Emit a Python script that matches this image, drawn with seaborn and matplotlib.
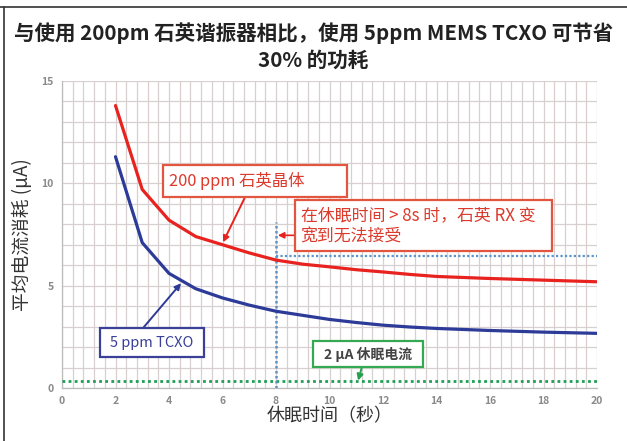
import numpy as np
import pandas as pd
import matplotlib
matplotlib.use("Agg")
import matplotlib.pyplot as plt
import seaborn as sns
from matplotlib.lines import Line2D

# ---- data ----
sleep_time = [2, 3, 4, 5, 6, 7, 8, 9, 10, 11, 12, 13, 14, 15, 16, 17, 18, 19, 20]
quartz_200ppm = [13.8, 9.7, 8.2, 7.4, 7.0, 6.6, 6.25, 6.05, 5.92, 5.78, 5.67, 5.55,
                 5.45, 5.4, 5.35, 5.31, 5.27, 5.23, 5.19]
tcxo_5ppm = [11.3, 7.1, 5.6, 4.85, 4.4, 4.05, 3.75, 3.55, 3.35, 3.2, 3.07, 2.98,
             2.91, 2.86, 2.81, 2.77, 2.73, 2.7, 2.67]
series_names = ["200 ppm 石英晶体", "5 ppm TCXO"]
sleep_current = 0.35
threshold_time = 8
threshold_top = 8.1
threshold_level = 6.44
x_ticks = [0, 2, 4, 6, 8, 10, 12, 14, 16, 18, 20]
y_ticks = [0, 5, 10, 15]

title = "与使用 200pm 石英谐振器相比，使用 5ppm MEMS TCXO 可节省\n30% 的功耗"
xlabel = "休眠时间（秒）"
ylabel = "平均电流消耗 (µA)"
note_red = "在休眠时间 > 8s 时，石英 RX 变\n宽到无法接受"
note_green = "2 µA 休眠电流"

df = pd.DataFrame({
    "x": sleep_time * 2,
    "y": quartz_200ppm + tcxo_5ppm,
    "s": [series_names[0]] * len(sleep_time) + [series_names[1]] * len(sleep_time),
})

sns.set_style("white")
plt.rcParams["font.family"] = ["Noto Sans CJK SC", "DejaVu Sans"]

RED = "#e8231f"
NAVY = "#2c3a98"
fig = plt.figure(figsize=(6.27, 4.41), dpi=100)
ax = fig.add_axes([62 / 627, 1 - 388 / 441, (597 - 62) / 627, (388 - 81) / 441])

sns.lineplot(data=df, x="x", y="y", hue="s", palette=[RED, NAVY], ax=ax,
             legend=False, linewidth=2.3, zorder=5)

ax.set_xlim(0, 20)
ax.set_ylim(0, 15)
ax.set_xticks(x_ticks)
ax.set_yticks(y_ticks)
ax.set_xticks(np.arange(0, 20.01, 0.4), minor=True)
ax.set_yticks(np.arange(0, 15.01, 1), minor=True)
ax.grid(which="both", color="#d8d0d0", linewidth=0.9)
ax.tick_params(which="minor", length=0)
ax.tick_params(which="major", length=3, color="#aaaaaa", labelsize=7.5,
               labelcolor="#8a8a8a", pad=3)
for lab in ax.get_xticklabels() + ax.get_yticklabels():
    lab.set_fontweight("bold")
for s in ["top", "right"]:
    ax.spines[s].set_visible(False)
for s in ["left", "bottom"]:
    ax.spines[s].set_color("#bbbbbb")
    ax.spines[s].set_linewidth(0.9)

ax.set_xlabel(xlabel, fontsize=13, color="#333333", labelpad=1)
ax.set_ylabel(ylabel, fontsize=13.5, color="#333333", labelpad=6)

# reference lines
ax.plot([0, 20], [sleep_current, sleep_current], linestyle=(0, (1, 1.2)),
        color="#1f9e55", linewidth=2.0, zorder=4)
ax.plot([threshold_time, threshold_time], [0, threshold_top], linestyle=(0, (1, 1)),
        color="#5b95c8", linewidth=1.8, zorder=4)
ax.plot([threshold_time, 20], [threshold_level, threshold_level], linestyle=(0, (1, 1)),
        color="#5b95c8", linewidth=1.6, zorder=4)

# annotation boxes
def box(x0, y0, x1, y1, ec):
    ax.add_patch(plt.Rectangle((x0, y0), x1 - x0, y1 - y0, facecolor="white",
                               edgecolor=ec, linewidth=1.6, zorder=7))

box(3.78, 9.32, 10.65, 10.88, "#e2553f")
ax.text(4.0, 10.1, series_names[0], color="#dc3a2c", fontsize=11.8, va="center",
        ha="left", zorder=8)

box(8.71, 6.68, 18.32, 9.17, "#e2553f")
ax.text(8.92, 7.92, note_red, color="#dc3a2c", fontsize=12.2, va="center",
        ha="left", linespacing=1.25, zorder=8)

box(1.42, 1.51, 5.31, 2.93, "#3a3f98")
ax.text(3.36, 2.2, series_names[1], color="#3a3f98", fontsize=10.5, va="center",
        ha="center", zorder=8)

box(9.38, 1.02, 13.5, 2.29, "#35a852")
ax.text(11.44, 1.65, note_green, color="#444444", fontsize=10, va="center",
        ha="center", fontweight="bold", zorder=8)

arrow_kw = dict(arrowstyle="-|>", mutation_scale=9, shrinkA=0, shrinkB=0)
ax.annotate("", xy=(6.02, 7.12), xytext=(6.84, 9.32),
            arrowprops=dict(color=RED, lw=1.4, **arrow_kw), zorder=6)
ax.annotate("", xy=(8.07, 7.46), xytext=(8.71, 7.46),
            arrowprops=dict(color=RED, lw=1.2, **arrow_kw), zorder=6)
ax.annotate("", xy=(4.45, 5.12), xytext=(3.03, 2.93),
            arrowprops=dict(color=NAVY, lw=1.4, **arrow_kw), zorder=6)
ax.annotate("", xy=(11.07, 0.36), xytext=(11.21, 1.02),
            arrowprops=dict(color="#22a04e", lw=1.4, **arrow_kw), zorder=6)

fig.text(0.5, 1 - 46.5 / 441, title, ha="center", va="center", fontsize=14.8,
         fontweight="bold", color="#222222", linespacing=1.3)

# image frame (top and left)
fig.add_artist(Line2D([0, 1], [1 - 7 / 441] * 2, color="#333333", lw=1.2,
                      transform=fig.transFigure))
fig.add_artist(Line2D([4 / 627] * 2, [0, 1 - 7 / 441], color="#333333", lw=1.2,
                      transform=fig.transFigure))

fig.savefig("out.png", dpi=100)
